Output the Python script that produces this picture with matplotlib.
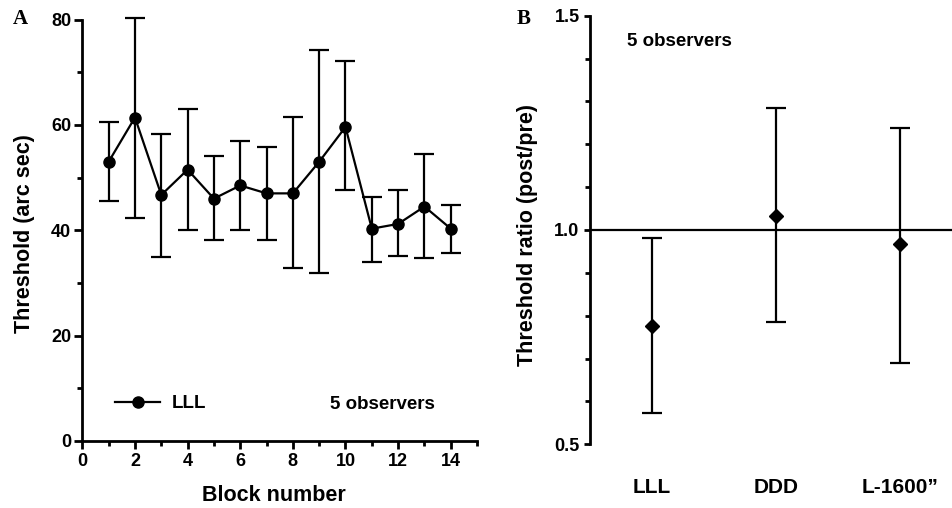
import matplotlib
matplotlib.use("Agg")
import matplotlib.pyplot as plt
import numpy as np

# Panel A: threshold per block (mean, lower / upper error bar ends)
blocks = np.arange(1, 15)
thresh = [53.0, 61.4, 46.7, 51.5, 46.0, 48.5, 47.0, 47.0, 53.0, 59.6, 40.3, 41.2, 44.5, 40.3]
thresh_lo = [45.5, 42.4, 35.0, 40.0, 38.2, 40.0, 38.2, 32.8, 31.8, 47.6, 34.0, 35.1, 34.7, 35.6]
thresh_hi = [60.5, 80.3, 58.2, 63.1, 54.0, 56.9, 55.8, 61.5, 74.2, 72.1, 46.3, 47.6, 54.5, 44.8]

# Panel B: threshold ratio (post/pre)
conds = ["LLL", "DDD", "L-1600\u201d"]
ratio = [0.776, 1.033, 0.967]
ratio_lo = [0.572, 0.785, 0.690]
ratio_hi = [0.981, 1.284, 1.238]

plt.rcParams["font.family"] = ["Liberation Sans", "DejaVu Sans"]
plt.rcParams["font.weight"] = "bold"
plt.rcParams["axes.labelweight"] = "bold"
plt.rcParams["axes.linewidth"] = 2.0

fig = plt.figure(figsize=(9.53, 5.08), dpi=100)

# ---- panel A ----
ax = fig.add_axes([0.0864, 0.1319, 0.4142, 0.8297])
t = np.array(thresh)
yerr = [t - np.array(thresh_lo), np.array(thresh_hi) - t]
eb = ax.errorbar(blocks, t, yerr=yerr, fmt="none", ecolor="black", elinewidth=1.6,
                 capsize=7, capthick=1.6)
for art in eb.get_children():
    art.set_clip_on(False)
ax.plot(blocks, t, "-o", color="black", lw=1.6, ms=8, label="LLL")
ax.set_xlim(0, 15)
ax.set_ylim(0, 80)
ax.set_xticks(range(0, 15, 2))
ax.set_xticks(range(1, 16, 2), minor=True)
ax.set_yticks(range(0, 81, 20))
ax.set_yticks(range(10, 80, 20), minor=True)
for s in ("top", "right"):
    ax.spines[s].set_visible(False)
ax.tick_params(which="major", length=6, width=2, labelsize=13, pad=3)
ax.tick_params(which="minor", length=3.5, width=2)
ax.tick_params(axis="y", pad=2)
ax.set_xlabel("Block number", fontsize=15.5)
ax.set_ylabel("Threshold (arc sec)", fontsize=15.5)
ax.xaxis.set_label_coords(0.486, -0.105)
ax.yaxis.set_label_coords(-0.12, 0.493)
ax.legend(loc="center left", bbox_to_anchor=(0.083, 0.088), frameon=False,
          fontsize=13.5, handlelength=2.4, handletextpad=0.6, borderpad=0,
          borderaxespad=0)
ax.text(9.42, 7, "5 observers", fontsize=13.5, va="center", ha="left")

# ---- panel B ----
bx = fig.add_axes([0.6191, 0.1254, 0.3809, 0.8437])
xb = np.arange(1, len(conds) + 1)
r = np.array(ratio)
rerr = [r - np.array(ratio_lo), np.array(ratio_hi) - r]
bx.axhline(1.0, color="black", lw=1.6)
bx.errorbar(xb, r, yerr=rerr, fmt="D", color="black", ms=7, elinewidth=1.6,
            capsize=7, capthick=1.6)
bx.set_xlim(0.5, 3.427)
bx.set_ylim(0.5, 1.5)
bx.set_yticks([0.5, 1.0, 1.5])
bx.set_yticks(np.arange(0.6, 1.45, 0.1), minor=True)
bx.set_yticklabels(["0.5", "1.0", "1.5"])
bx.set_xticks(xb)
bx.set_xticklabels(conds, fontsize=15)
for s in ("top", "right", "bottom"):
    bx.spines[s].set_visible(False)
bx.tick_params(axis="x", length=0, pad=24)
bx.tick_params(axis="y", which="major", length=4.5, width=2, labelsize=13, pad=3)
bx.tick_params(axis="y", which="minor", length=3.5, width=2)
bx.set_ylabel("Threshold ratio (post/pre)", fontsize=15.5)
bx.yaxis.set_label_coords(-0.143, 0.488)
bx.text(0.798, 1.439, "5 observers", fontsize=13.5, va="center", ha="left")

# panel letters
fig.text(20 / 953, 1 - 19 / 508, "A", family="Liberation Serif", weight="bold",
         fontsize=15, ha="center", va="center")
fig.text(524 / 953, 1 - 19 / 508, "B", family="Liberation Serif", weight="bold",
         fontsize=15, ha="center", va="center")

fig.savefig("out.png", dpi=100)
